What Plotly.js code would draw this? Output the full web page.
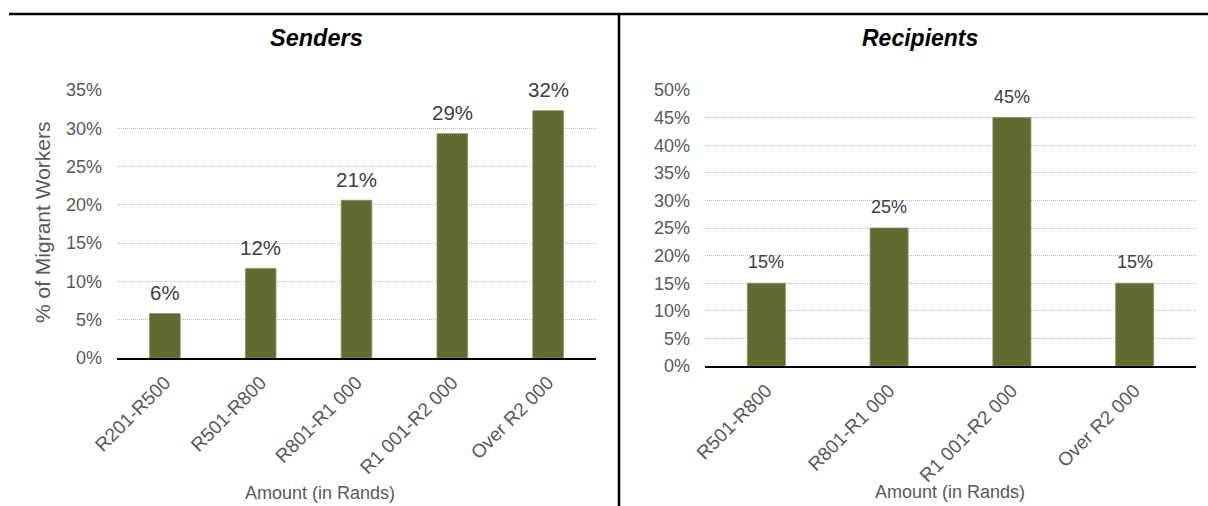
<!DOCTYPE html>
<html>
<head>
<meta charset="utf-8">
<script src="https://cdn.plot.ly/plotly-3.0.1.min.js"></script>
<style>html,body{margin:0;padding:0;background:#fff;}#chart{width:1208px;height:506px;}</style>
</head>
<body>
<div id="chart"></div>
<script>
const senderCategories = ['R201-R500', 'R501-R800', 'R801-R1 000', 'R1 001-R2 000', 'Over R2 000'];
const senderValues = [0.058, 0.117, 0.206, 0.293, 0.323];
const recipientCategories = ['R501-R800', 'R801-R1 000', 'R1 001-R2 000', 'Over R2 000'];
const recipientValues = [0.15, 0.25, 0.45, 0.15];
const panelTitles = ['Senders', 'Recipients'];
const xAxisTitle = 'Amount (in Rands)';
const yAxisTitle = '% of Migrant Workers';

const W = 1208, H = 506;
const FONT = 'Liberation Sans, Arial, sans-serif';
const BAR = '#626a2f';
const px = x => x / W;
const py = y => 1 - y / H;

const traces = [
  {type: 'bar', x: senderCategories, y: senderValues, xaxis: 'x', yaxis: 'y',
   marker: {color: BAR, line: {color: '#8d9266', width: 0.8}}, width: 0.32, hoverinfo: 'skip'},
  {type: 'bar', x: recipientCategories, y: recipientValues, xaxis: 'x2', yaxis: 'y2',
   marker: {color: BAR, line: {color: '#8d9266', width: 0.8}}, width: 0.31, hoverinfo: 'skip'}
];

const annotations = [];
senderCategories.forEach((c, i) => annotations.push({
  xref: 'x', yref: 'y', x: c, y: senderValues[i], yanchor: 'middle', yshift: 21,
  text: Math.round(senderValues[i] * 100) + '%', showarrow: false,
  font: {family: FONT, size: 20.5, color: '#404040'}
}));
recipientCategories.forEach((c, i) => annotations.push({
  xref: 'x2', yref: 'y2', x: c, y: recipientValues[i], yanchor: 'middle', yshift: 21,
  text: Math.round(recipientValues[i] * 100) + '%', showarrow: false,
  font: {family: FONT, size: 18, color: '#404040'}
}));
annotations.push(
  {xref: 'paper', yref: 'paper', x: px(316), y: py(38), text: '<b><i>' + panelTitles[0] + '</i></b>', showarrow: false,
   xanchor: 'center', yanchor: 'middle', font: {family: FONT, size: 23.5, color: '#000'}},
  {xref: 'paper', yref: 'paper', x: px(920), y: py(38), text: '<b><i>' + panelTitles[1] + '</i></b>', showarrow: false,
   xanchor: 'center', yanchor: 'middle', font: {family: FONT, size: 23, color: '#000'}},
  {xref: 'paper', yref: 'paper', x: px(320), y: py(493), text: xAxisTitle, showarrow: false,
   xanchor: 'center', yanchor: 'middle', font: {family: FONT, size: 18, color: '#595959'}},
  {xref: 'paper', yref: 'paper', x: px(950), y: py(492), text: xAxisTitle, showarrow: false,
   xanchor: 'center', yanchor: 'middle', font: {family: FONT, size: 18, color: '#595959'}},
  {xref: 'paper', yref: 'paper', x: px(42), y: py(222), text: yAxisTitle, showarrow: false, textangle: -90,
   xanchor: 'center', yanchor: 'middle', font: {family: FONT, size: 21, color: '#595959'}}
);

const yCommon = {
  tickformat: '.0%', showgrid: true, gridcolor: '#bdbdbd', griddash: '1px,1px', gridwidth: 1,
  zeroline: false, showline: false, ticks: '', ticklabelstandoff: 14,
  tickfont: {family: FONT, size: 18, color: '#595959'}, automargin: false, fixedrange: true
};
const xCommon = {
  type: 'category', showgrid: false, zeroline: false, showline: true, linecolor: '#000', linewidth: 2,
  ticks: '', tickangle: -45, ticklabelstandoff: 4, tickfont: {family: FONT, size: 19, color: '#595959'},
  automargin: false, fixedrange: true
};

const layout = {
  width: W, height: H, autosize: false,
  margin: {l: 0, r: 0, t: 0, b: 0},
  paper_bgcolor: '#fff', plot_bgcolor: '#fff',
  showlegend: false,
  font: {family: FONT},
  xaxis: Object.assign({}, xCommon, {domain: [px(117), px(596)], anchor: 'y'}),
  yaxis: Object.assign({}, yCommon, {domain: [py(358), py(90)], range: [0, 0.35], dtick: 0.05, anchor: 'x'}),
  xaxis2: Object.assign({}, xCommon, {domain: [px(705), px(1196)], anchor: 'y2'}),
  yaxis2: Object.assign({}, yCommon, {domain: [py(366), py(90)], range: [0, 0.5], dtick: 0.05, anchor: 'x2'}),
  annotations: annotations,
  shapes: [
    {type: 'line', xref: 'paper', yref: 'paper', x0: px(9), x1: 1, y0: py(14), y1: py(14), line: {color: '#000', width: 2.5}},
    {type: 'line', xref: 'paper', yref: 'paper', x0: px(619), x1: px(619), y0: py(14), y1: 0, line: {color: '#000', width: 2.5}}
  ]
};

Plotly.newPlot('chart', traces, layout, {staticPlot: true, displayModeBar: false});
</script>
</body>
</html>
